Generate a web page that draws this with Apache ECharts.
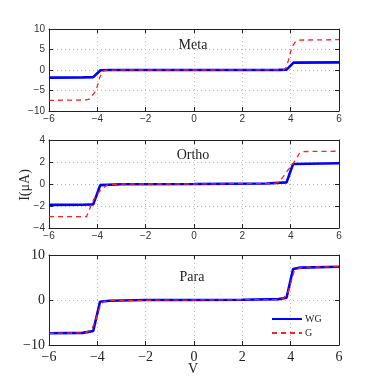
<!DOCTYPE html>
<html>
<head>
<meta charset="utf-8">
<script src="https://cdn.jsdelivr.net/npm/echarts@6/dist/echarts.min.js"></script>
<style>html,body{margin:0;padding:0;background:#fff;}#c{width:374px;height:385px;}</style>
</head>
<body>
<div id="c"></div>
<script>
// X ticks
var xTicks = [-6, -4, -2, 0, 2, 4, 6];
// Meta panel
var metaWG_x = [-6, -4.6, -4.17, -3.87, -3.5, 0, 3.5, 3.83, 4.12, 6];
var metaWG_y = [-1.85, -1.8, -1.75, -0.05, 0, 0, 0.02, 0.1, 1.8, 1.85];
var metaG_x = [-6, -4.45, -4.3, -4.2, -4.05, -3.9, -3.8, -3.65, -3, 0, 3.4, 3.7, 3.8, 3.9, 4.0, 4.1, 4.2, 4.35, 6];
var metaG_y = [-7.4, -7.3, -7.0, -6.2, -5.0, -1.8, -0.4, -0.05, 0, 0, 0.02, 0.05, 0.5, 2.2, 4.5, 6.0, 6.9, 7.3, 7.4];
// Ortho panel
var orthoWG_x = [-6, -4.6, -4.17, -3.88, -3, 0, 3, 3.83, 4.1, 6];
var orthoWG_y = [-1.9, -1.88, -1.85, -0.1, -0.02, 0, 0.05, 0.15, 1.82, 1.88];
var orthoG_x = [-6, -4.45, -4.15, -3.85, -3.6, -3, 0, 3.3, 3.5, 3.65, 3.9, 4.15, 4.35, 4.5, 6];
var orthoG_y = [-2.97, -2.97, -1.4, -0.5, -0.1, 0, 0, 0.05, 0.15, 0.55, 1.3, 2.0, 2.75, 2.95, 2.98];
// Para panel
var paraWG_x = [-6, -4.6, -4.17, -3.89, -3.5, -2, 0, 2, 3.5, 3.83, 4.1, 4.4, 6];
var paraWG_y = [-7.4, -7.3, -6.9, -0.4, -0.15, 0, 0, 0.05, 0.2, 0.5, 6.9, 7.2, 7.4];
var paraG_x = [-6, -4.5, -4.25, -4.1, -3.85, -3.7, -3.4, 0, 3.4, 3.7, 3.9, 4.15, 4.3, 4.6, 6];
var paraG_y = [-7.4, -7.3, -6.6, -5.0, -0.8, -0.3, -0.1, 0, 0.1, 0.4, 1.8, 6.5, 7.0, 7.3, 7.4];
// Y ticks per panel
var metaYTicks = [-10, -5, 0, 5, 10];
var orthoYTicks = [-4, -2, 0, 2, 4];
var paraYTicks = [-10, 0, 10];
var titles = ['Meta', 'Ortho', 'Para'];
var legendNames = ['WG', 'G'];

function pairs(xs, ys) { return xs.map(function (x, i) { return [x, ys[i]]; }); }
function fmt(v) { return String(v).replace('-', '\u2212'); }

var grids = [
  { left: 49, top: 29, width: 290, height: 82 },
  { left: 49, top: 140, width: 290, height: 88 },
  { left: 49, top: 255, width: 290, height: 90 }
];
var yTickSets = [metaYTicks, orthoYTicks, paraYTicks];
var sans = 'Liberation Sans, Arial, sans-serif';
var serif = 'Liberation Serif, Times New Roman, serif';

var xAxes = [], yAxes = [];
grids.forEach(function (g, i) {
  var big = (i === 2);
  var yt = yTickSets[i];
  var labelFont = big ? { fontFamily: serif, fontSize: 14, color: '#222' } : { fontFamily: sans, fontSize: 10, color: '#333' };
  xAxes.push({
    type: 'value', gridIndex: i, min: xTicks[0], max: xTicks[xTicks.length - 1], interval: 2,
    position: 'bottom',
    axisLine: { show: true, onZero: false, lineStyle: { color: '#222', width: 1 } },
    axisTick: { show: true, inside: true, length: 4, lineStyle: { color: '#222' } },
    axisLabel: Object.assign({ margin: big ? 5 : 3, formatter: fmt }, labelFont),
    splitLine: { show: true, lineStyle: { color: '#b8b8b8', type: [1, 3], width: 1 } }
  });
  xAxes.push({
    type: 'value', gridIndex: i, min: xTicks[0], max: xTicks[xTicks.length - 1], interval: 2,
    position: 'top',
    axisLine: { show: true, onZero: false, lineStyle: { color: '#222', width: 1 } },
    axisTick: { show: true, inside: true, length: 4, lineStyle: { color: '#222' } },
    axisLabel: { show: false }, splitLine: { show: false }
  });
  var yint = yt[1] - yt[0];
  yAxes.push({
    type: 'value', gridIndex: i, min: yt[0], max: yt[yt.length - 1], interval: yint,
    position: 'left',
    axisLine: { show: true, onZero: false, lineStyle: { color: '#222', width: 1 } },
    axisTick: { show: true, inside: true, length: 4, lineStyle: { color: '#222' } },
    axisLabel: Object.assign({ margin: 4, formatter: fmt }, labelFont),
    splitLine: { show: true, lineStyle: { color: '#b8b8b8', type: [1, 3], width: 1 } }
  });
  yAxes.push({
    type: 'value', gridIndex: i, min: yt[0], max: yt[yt.length - 1], interval: yint,
    position: 'right',
    axisLine: { show: true, onZero: false, lineStyle: { color: '#222', width: 1 } },
    axisTick: { show: true, inside: true, length: 4, lineStyle: { color: '#222' } },
    axisLabel: { show: false }, splitLine: { show: false }
  });
});

var seriesDefs = [
  { name: 'WG-meta', p: 0, d: pairs(metaWG_x, metaWG_y), wg: true },
  { name: 'G-meta', p: 0, d: pairs(metaG_x, metaG_y), wg: false },
  { name: 'WG-ortho', p: 1, d: pairs(orthoWG_x, orthoWG_y), wg: true },
  { name: 'G-ortho', p: 1, d: pairs(orthoG_x, orthoG_y), wg: false },
  { name: legendNames[0], p: 2, d: pairs(paraWG_x, paraWG_y), wg: true },
  { name: legendNames[1], p: 2, d: pairs(paraG_x, paraG_y), wg: false }
];
var series = seriesDefs.map(function (s) {
  return {
    name: s.name, type: 'line', xAxisIndex: s.p * 2, yAxisIndex: s.p * 2,
    data: s.d, showSymbol: false, symbol: 'none', smooth: false,
    color: s.wg ? '#0000ff' : '#ff2020',
    lineStyle: s.wg ? { color: '#0000ff', width: 2.6 } : { color: '#ff2020', width: 1.3, type: [5, 4] },
    z: s.wg ? 2 : 3,
    emphasis: { disabled: true }, silent: true
  };
});

var chart = echarts.init(document.getElementById('c'), null, { renderer: 'canvas' });
chart.setOption({
  backgroundColor: '#ffffff',
  animation: false,
  grid: grids.map(function (g) { return Object.assign({ containLabel: false }, g); }),
  xAxis: xAxes,
  yAxis: yAxes,
  legend: {
    data: legendNames, orient: 'vertical', left: 266, top: 309,
    itemWidth: 30, itemHeight: 12, itemGap: 4,
    itemStyle: { opacity: 0, color: 'transparent', borderWidth: 0 },
    textStyle: { fontFamily: serif, fontSize: 10, color: '#222', padding: [0, 0, 0, -2] },
    selectedMode: false
  },
  graphic: [
    { type: 'text', style: { text: titles[0], x: 193, y: 45, align: 'center', verticalAlign: 'middle', font: '14px ' + serif, fill: '#222' } },
    { type: 'text', style: { text: titles[1], x: 193, y: 155, align: 'center', verticalAlign: 'middle', font: '14px ' + serif, fill: '#222' } },
    { type: 'text', style: { text: titles[2], x: 192, y: 277, align: 'center', verticalAlign: 'middle', font: '14px ' + serif, fill: '#222' } },
    { type: 'text', x: 25, y: 185, rotation: Math.PI / 2, style: { text: 'I(\u03bcA)', x: 0, y: 0, align: 'center', verticalAlign: 'middle', font: '14px ' + serif, fill: '#222' } },
    { type: 'text', style: { text: 'V', x: 193, y: 369, align: 'center', verticalAlign: 'middle', font: '14px ' + serif, fill: '#222' } }
  ],
  series: series
});
</script>
</body>
</html>
